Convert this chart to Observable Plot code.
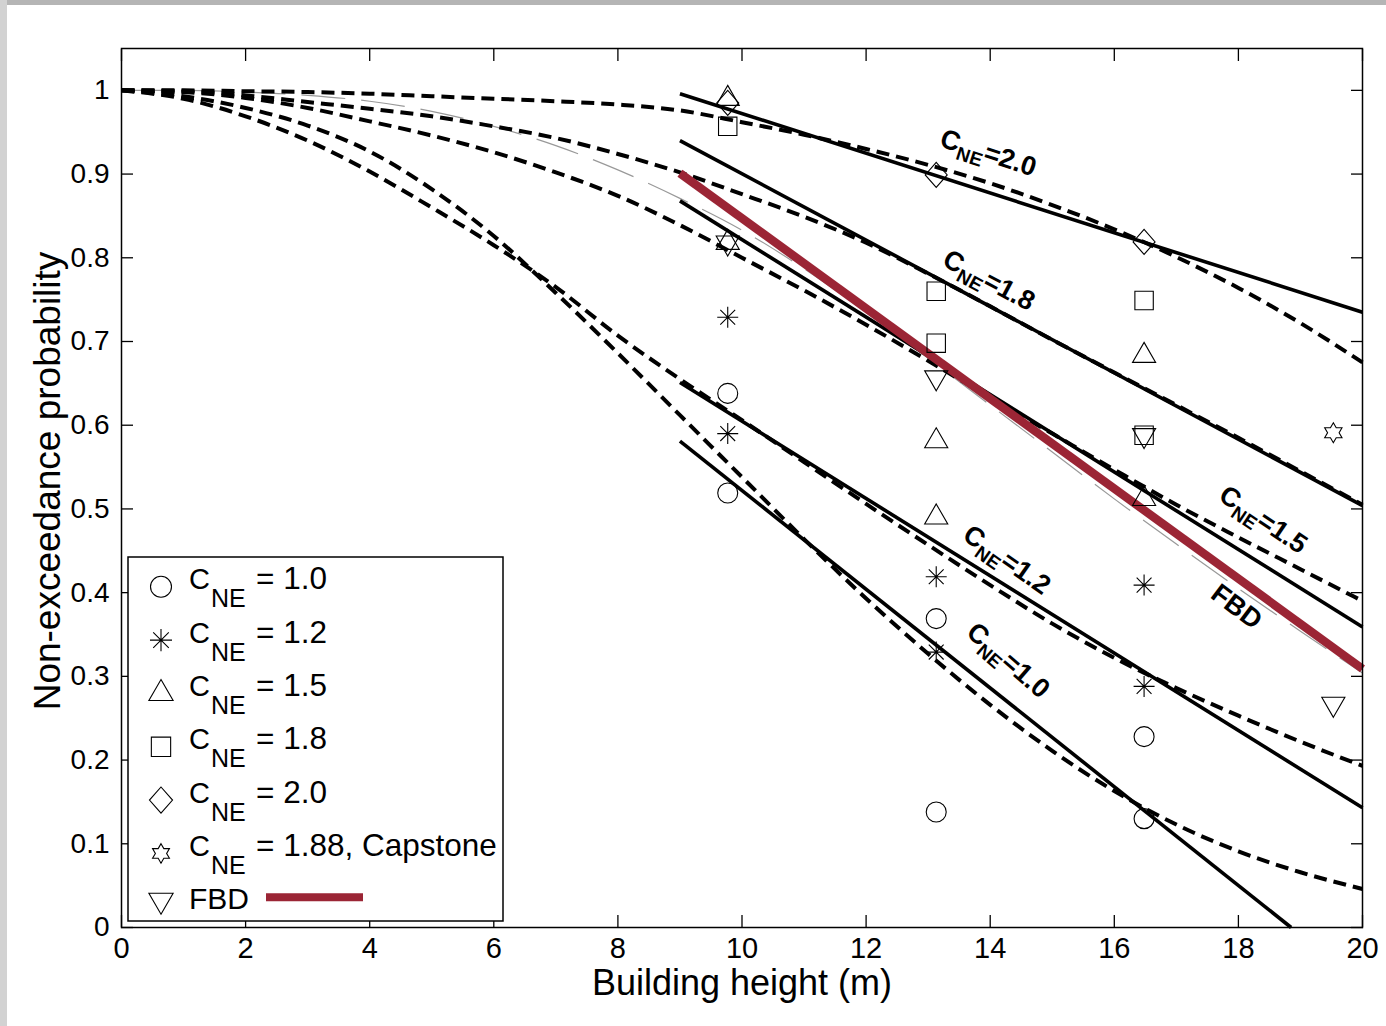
<!DOCTYPE html>
<html><head><meta charset="utf-8">
<script src="https://cdn.jsdelivr.net/npm/d3@7"></script>
<script src="https://cdn.jsdelivr.net/npm/@observablehq/plot@0.6"></script>
<style>
html,body{margin:0;padding:0;background:#fff;}
#wrap{position:relative;width:1386px;height:1026px;overflow:hidden;background:#fff;}
#topband{position:absolute;left:0;top:0;width:1386px;height:5px;background:#b5b5b5;}
#leftband{position:absolute;left:0;top:0;width:7px;height:1026px;background:#d2d2d2;}
svg{display:block;}
</style></head><body>
<div id="wrap"><div id="chart"></div><div id="topband"></div><div id="leftband"></div></div>
<script>
// ---------- data ----------
const curveX = [0,1,2,3,4,5,6,7,8,9,10,11,12,13,14,15,16,17,18,19,20];
const dashedCNE20 = [1,1.000,0.999,0.998,0.996,0.993,0.990,0.987,0.983,0.976,0.962,0.947,0.930,0.911,0.889,0.863,0.834,0.801,0.764,0.722,0.675];
const dashedCNE18 = [1,0.999,0.994,0.986,0.978,0.969,0.957,0.943,0.924,0.902,0.876,0.849,0.818,0.781,0.742,0.702,0.663,0.624,0.585,0.545,0.505];
const dashedCNE15 = [1,0.998,0.991,0.979,0.963,0.946,0.926,0.902,0.874,0.839,0.800,0.761,0.720,0.677,0.633,0.590,0.547,0.505,0.466,0.428,0.390];
const dashedCNE12 = [1,0.990,0.969,0.940,0.903,0.860,0.815,0.765,0.707,0.655,0.606,0.556,0.506,0.457,0.409,0.363,0.322,0.286,0.253,0.222,0.193];
const dashedCNE10 = [1,0.993,0.979,0.958,0.927,0.882,0.826,0.758,0.686,0.612,0.538,0.464,0.393,0.327,0.266,0.211,0.163,0.123,0.091,0.066,0.046];
const fbdCurve    = [1,1.000,0.998,0.994,0.987,0.975,0.957,0.934,0.905,0.871,0.833,0.787,0.735,0.680,0.624,0.568,0.512,0.458,0.405,0.354,0.304];

const fitCNE = ["2.0","1.8","1.5","1.2","1.0"];
const fitX0 = [9, 9, 9, 9, 9];
const fitY0 = [0.996, 0.940, 0.868, 0.651, 0.581];
const fitX1 = [20, 20, 20, 20, 18.85];
const fitY1 = [0.735, 0.504, 0.359, 0.143, 0];
const fbdLineX = [9, 20];
const fbdLineY = [0.901, 0.309];

const circleX = [9.77, 9.77, 13.13, 13.13, 16.48, 16.48];
const circleY = [0.638, 0.519, 0.369, 0.138, 0.228, 0.130];
const starX = [9.77, 9.77, 13.13, 13.13, 16.48, 16.48];
const starY = [0.729, 0.590, 0.419, 0.329, 0.409, 0.288];
const triX = [9.77, 9.77, 13.13, 13.13, 16.48, 16.48];
const triY = [0.990, 0.818, 0.581, 0.490, 0.683, 0.512];
const squareX = [9.77, 13.13, 13.13, 16.48, 16.48];
const squareY = [0.957, 0.760, 0.698, 0.749, 0.588];
const diamondX = [9.77, 13.13, 16.48];
const diamondY = [0.985, 0.899, 0.819];
const capstoneX = [19.53];
const capstoneY = [0.591];
const fbdX = [9.77, 13.13, 16.48, 19.53];
const fbdY = [0.818, 0.657, 0.588, 0.267];

const xTicks = [0,2,4,6,8,10,12,14,16,18,20];
const yTicks = [0,0.1,0.2,0.3,0.4,0.5,0.6,0.7,0.8,0.9,1];

const labelText = ["CNE=2.0","CNE=1.8","CNE=1.5","CNE=1.2","CNE=1.0","FBD"];
const labelX = [13.97, 13.98, 18.40, 14.27, 14.29, 17.97];
const labelY = [0.925, 0.773, 0.487, 0.439, 0.319, 0.383];
const labelAngle = [18, 28, 34, 35, 41, 37];

const legendText = ["= 1.0","= 1.2","= 1.5","= 1.8","= 2.0","= 1.88, Capstone"];

// ---------- symbols ----------
const R = s => Math.sqrt(s / Math.PI);
const symCircle = {draw(c, s){ const r = R(s); c.moveTo(r,0); c.arc(0,0,r,0,2*Math.PI); c.closePath(); }};
const symAsterisk = {draw(c, s){ const r = R(s)*1.05, d = r*Math.SQRT1_2;
  c.moveTo(0,-r); c.lineTo(0,r); c.moveTo(-r,0); c.lineTo(r,0);
  c.moveTo(-d,-d); c.lineTo(d,d); c.moveTo(-d,d); c.lineTo(d,-d); }};
const symTriUp = {draw(c, s){ const h = 2*R(s), w = h/Math.sqrt(3);
  c.moveTo(0,-2*h/3); c.lineTo(w,h/3); c.lineTo(-w,h/3); c.closePath(); }};
const symTriDown = {draw(c, s){ const h = 2*R(s), w = h/Math.sqrt(3);
  c.moveTo(0,2*h/3); c.lineTo(w,-h/3); c.lineTo(-w,-h/3); c.closePath(); }};
const symSquare = {draw(c, s){ const a = 0.92*R(s); c.rect(-a,-a,2*a,2*a); }};
const symDiamond = {draw(c, s){ const r = R(s), w = 1.1*r, h = 1.25*r;
  c.moveTo(0,-h); c.lineTo(w,0); c.lineTo(0,h); c.lineTo(-w,0); c.closePath(); }};
const symHexagram = {draw(c, s){ const Ro = 1.0*R(s), Ri = Ro/Math.sqrt(3);
  for (let k = 0; k < 12; k++) { const a = -Math.PI/2 + k*Math.PI/6; const rr = k%2 ? Ri : Ro;
    const px = rr*Math.cos(a), py = rr*Math.sin(a); if (k===0) c.moveTo(px,py); else c.lineTo(px,py); }
  c.closePath(); }};

const FONT = "'Liberation Sans', Arial, Helvetica, sans-serif";
const RED = "#9b2535";

const dashedRows = [["2.0",dashedCNE20],["1.8",dashedCNE18],["1.5",dashedCNE15],["1.2",dashedCNE12],["1.0",dashedCNE10]]
  .flatMap(([k, ys]) => curveX.map((x,i) => ({cne:k, x, p: ys[i]})));
const fbdRows = curveX.map((x,i) => ({x, p: fbdCurve[i]}));
const pts = (xs, ys) => xs.map((x,i) => ({x, y: ys[i]}));
const dotOpts = sym => ({x:"x", y:"y", symbol: sym, r: 10, fill: "none", stroke: "black", strokeWidth: 1.1});

const chart = Plot.plot({
  width: 1386, height: 1026,
  marginLeft: 121, marginRight: 24, marginTop: 48, marginBottom: 99,
  style: {fontFamily: FONT, color: "black", background: "transparent", overflow: "visible"},
  x: {domain: [0, 20]},
  y: {domain: [0, 1.05]},
  marks: [
    Plot.line(fbdRows, {x:"x", y:"p", stroke:"#999", strokeWidth:1.2, strokeDasharray:"44,16", strokeLinecap:"butt", curve:"monotone-x"}),
    Plot.line(dashedRows, {x:"x", y:"p", z:"cne", stroke:"black", strokeWidth:4, strokeDasharray:"13,7", strokeLinecap:"butt", curve:"monotone-x"}),
    Plot.link(fitCNE, {x1: fitX0, y1: fitY0, x2: fitX1, y2: fitY1, stroke:"black", strokeWidth:3.6, strokeLinecap:"butt"}),
    Plot.line(pts(fbdLineX, fbdLineY), {x:"x", y:"y", stroke: RED, strokeWidth: 8.5, strokeLinecap:"butt"}),
    Plot.dot(pts(circleX, circleY), dotOpts(symCircle)),
    Plot.dot(pts(starX, starY), dotOpts(symAsterisk)),
    Plot.dot(pts(triX, triY), dotOpts(symTriUp)),
    Plot.dot(pts(squareX, squareY), dotOpts(symSquare)),
    Plot.dot(pts(diamondX, diamondY), dotOpts(symDiamond)),
    Plot.dot(pts(capstoneX, capstoneY), dotOpts(symHexagram)),
    Plot.dot(pts(fbdX, fbdY), dotOpts(symTriDown)),
    Plot.text(labelText, {x: labelX, y: labelY, rotate: labelAngle, text: d => d, fontSize: 27, fontWeight: "bold", fill: "black"}),
    Plot.axisX(xTicks, {anchor:"bottom", tickSize:0, tickPadding:10, fontSize:29, label:null, tickFormat: d3.format("~g")}),
    Plot.axisX(xTicks, {anchor:"bottom", tickSize:-12, tickFormat: () => "", label:null, strokeWidth:1.3}),
    Plot.axisX(xTicks, {anchor:"top", tickSize:-12, tickFormat: () => "", label:null, strokeWidth:1.3}),
    Plot.axisY(yTicks, {anchor:"left", tickSize:0, tickPadding:12, fontSize:28, label:null, tickFormat: d3.format("~g")}),
    Plot.axisY(yTicks, {anchor:"left", tickSize:-12, tickFormat: () => "", label:null, strokeWidth:1.3}),
    Plot.axisY(yTicks, {anchor:"right", tickSize:-12, tickFormat: () => "", label:null, strokeWidth:1.3}),
    Plot.frame({stroke:"black", strokeWidth:1.5}),
    Plot.text(["Building height (m)"], {text: d => d, frameAnchor:"bottom", textAnchor:"middle", dy: 67, fontSize: 36}),
    Plot.text(["Non-exceedance probability"], {text: d => d, frameAnchor:"left", textAnchor:"middle", rotate: -90, dx: -73, dy: -7, fontSize: 37})
  ]
});
document.getElementById("chart").appendChild(chart);

// subscripts in line labels
const svg = d3.select(chart);
svg.selectAll("text").each(function() {
  const s = this.textContent;
  if (/^CNE=/.test(s)) {
    const sel = d3.select(this);
    sel.text(null);
    sel.append("tspan").text("C");
    sel.append("tspan").attr("font-size", 19).attr("dy", 7).text("NE");
    sel.append("tspan").attr("dy", -7).text(s.slice(3));
  }
});

// legend
const lg = svg.append("g").attr("font-family", FONT).attr("fill", "black").attr("text-anchor", "start");
lg.append("rect").attr("x",128).attr("y",557).attr("width",375).attr("height",364)
  .attr("fill","white").attr("stroke","black").attr("stroke-width",1.5);
const legendSyms = [symCircle, symAsterisk, symTriUp, symSquare, symDiamond, symHexagram, symTriDown];
legendSyms.forEach((sym, i) => {
  const base = 589.3 + i * 53.33;
  const sz = (sym === symHexagram) ? Math.PI*95 : Math.PI*110;
  const off = (sym === symTriDown) ? 9 : 2.5;
  lg.append("path").attr("transform", `translate(161,${base-off})`)
    .attr("d", d3.symbol(sym, sz)()).attr("fill","none").attr("stroke","black").attr("stroke-width",1.1);
  if (i < legendText.length) {
    const t = lg.append("text").attr("y", base).attr("font-size", 29).attr("text-anchor", "start");
    t.append("tspan").attr("x", 189).text("C");
    t.append("tspan").attr("x", 211).attr("font-size", 25).attr("dy", 18).text("NE");
    t.append("tspan").attr("x", 256).attr("dy", -18).attr("font-size", 31.5).text(legendText[i]);
  } else {
    lg.append("text").attr("x", 189).attr("y", base).attr("font-size", 30).attr("text-anchor", "start").text("FBD");
    lg.append("line").attr("x1", 266).attr("x2", 363).attr("y1", base - 12).attr("y2", base - 12)
      .attr("stroke", RED).attr("stroke-width", 8);
  }
});
</script>
</body></html>
